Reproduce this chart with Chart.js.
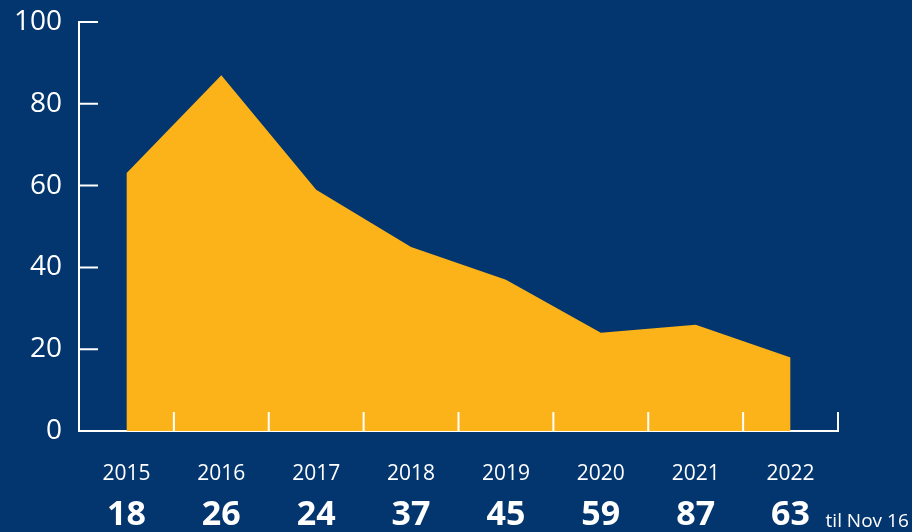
<!DOCTYPE html>
<html>
<head>
<meta charset="utf-8">
<script src="https://cdn.jsdelivr.net/npm/chart.js@4"></script>
<style>
  html, body { margin: 0; padding: 0; background: #03366f; }
  #wrap { width: 912px; height: 532px; }
</style>
</head>
<body>
<div id="wrap"><canvas id="chart"></canvas></div>
<script>
const years = ['2015', '2016', '2017', '2018', '2019', '2020', '2021', '2022'];
const values = [63, 87, 59, 45, 37, 24, 26, 18];
const counts = ['18', '26', '24', '37', '45', '59', '87', '63'];
const note = 'til Nov 16';

const WHITE = '#ffffff';
const YELLOW = '#fcb219';
const FONT = "'Open Sans', sans-serif";

// inward tick marks + the "til Nov 16" note
const decor = {
    id: 'decor',
    afterDatasetsDraw(chart) {
        const { ctx, scales } = chart;
        const x = scales.x, y = scales.y, x2 = scales.x2;
        ctx.save();
        ctx.strokeStyle = WHITE;
        ctx.lineWidth = 2;
        ctx.beginPath();
        y.ticks.forEach((t, i) => {
            const py = y.getPixelForTick(i);
            ctx.moveTo(y.right, py);
            ctx.lineTo(y.right + 19, py);
        });
        const step = x.getPixelForValue(1) - x.getPixelForValue(0);
        for (let i = 0; i <= years.length; i++) {
            const px = x.getPixelForValue(0) - step / 2 + i * step;
            ctx.moveTo(px, x.top);
            ctx.lineTo(px, x.top - 19);
        }
        ctx.stroke();

        const last = x2.getPixelForValue(counts.length - 1);
        ctx.fillStyle = WHITE;
        ctx.font = `19px ${FONT}`;
        ctx.textAlign = 'left';
        ctx.textBaseline = 'alphabetic';
        ctx.fillText(note, last + 35, x2.top + 36);
        ctx.restore();
    }
};

new Chart(document.getElementById('chart'), {
    type: 'line',
    data: {
        labels: years,
        datasets: [{
            data: values,
            backgroundColor: YELLOW,
            borderWidth: 0,
            pointRadius: 0,
            fill: 'origin',
            tension: 0
        }]
    },
    options: {
        responsive: true, maintainAspectRatio: false, animation: false,
        layout: { padding: { top: 22, right: 74, left: 0, bottom: 0 } },
        plugins: { legend: { display: false }, tooltip: { enabled: false } },
        scales: {
            y: {
                min: 0, max: 100,
                ticks: { stepSize: 20, color: WHITE, padding: 17, font: { family: FONT, size: 28, weight: '500' } },
                grid: { display: false, drawTicks: false },
                border: { display: true, color: WHITE, width: 2 },
                afterFit: s => { s.width = 79; s.paddingTop = 0; s.paddingBottom = 0; }
            },
            x: {
                offset: true,
                weight: 0,
                ticks: { color: WHITE, padding: 30, font: { family: FONT, size: 21, weight: '500' }, maxRotation: 0 },
                grid: { display: false, drawTicks: false },
                border: { display: true, color: WHITE, width: 2 },
                afterFit: s => { s.height = 60; }
            },
            x2: {
                type: 'category',
                labels: counts,
                position: 'bottom',
                offset: true,
                weight: 1,
                ticks: { color: WHITE, padding: 4, font: { family: FONT, size: 34, weight: 'bold' }, maxRotation: 0 },
                grid: { display: false, drawTicks: false },
                border: { display: false },
                afterFit: s => { s.height = 41; }
            }
        }
    },
    plugins: [decor]
});
</script>
</body>
</html>
